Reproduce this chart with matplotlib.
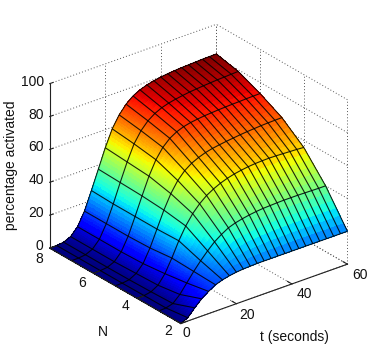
import numpy as np
import matplotlib
matplotlib.use('Agg')
import matplotlib.pyplot as plt
from mpl_toolkits.mplot3d import proj3d

t_vals = np.arange(25) * 2.5
n_vals = [2, 3, 4, 5, 6, 7, 8]
act_n2 = [0, 2, 6.5, 10.5, 13.5, 16, 17.5, 18.5, 19.2, 19.6, 19.8, 20, 20, 20, 20, 20, 20, 20, 20, 20, 20, 20, 20, 20, 20]
act_n3 = [0, .3, 1.5, 5.5, 11, 16.5, 21.5, 26, 30, 33, 35.5, 37, 38, 38.8, 39.4, 39.8, 40, 40.2, 40.3, 40.3, 40.3, 40.2, 40.1, 40, 40]
act_n4 = [0, .2, 1, 3.5, 9, 17, 26, 33.5, 39.5, 44, 47.5, 50, 52, 53.5, 54.6, 55.4, 56, 56.4, 56.6, 56.7, 56.6, 56.4, 56.2, 56, 55.7]
act_n5 = [0, .1, .7, 3, 7.5, 15.5, 25.5, 35.5, 44, 50.5, 55, 58, 60, 61.5, 62.5, 63.2, 63.8, 64.3, 64.8, 65.2, 65.5, 65.8, 66, 66.1, 66.2]
act_n6 = [0, .1, .6, 2.5, 7, 15, 25.5, 36.5, 47, 55.5, 61.5, 65.5, 68, 69.6, 70.6, 71.2, 71.7, 72, 72.3, 72.5, 72.7, 72.8, 73, 73.1, 73.2]
act_n7 = [0, .1, .6, 2.5, 7, 15, 25.5, 37, 48, 57.5, 64, 68.5, 71.5, 73.5, 74.8, 75.7, 76.4, 77, 77.4, 77.8, 78.1, 78.4, 78.6, 78.8, 79]
act_n8 = [0, .1, .6, 2.5, 7, 15, 26, 37.5, 49, 59, 66, 71, 74.5, 76.7, 78.2, 79.2, 80, 80.5, 80.9, 81.2, 81.4, 81.6, 81.8, 81.9, 82]
t_ticks = [0, 20, 40, 60]
n_ticks = [2, 4, 6, 8]
z_ticks = [0, 20, 40, 60, 80, 100]

plt.rcParams['font.family'] = ['Liberation Sans', 'DejaVu Sans']
W, H = 384, 361
fig = plt.figure(figsize=(W/100, H/100), dpi=100)
side = 340
ax = fig.add_axes([24/W, 1-348.5/H, side/W, side/H], projection='3d', computed_zorder=False)
ax.set_proj_type('ortho')
ax.view_init(elev=26.9, azim=-128.2)
ax.set_xlim(0, 60, view_margin=0)
ax.set_ylim(2, 8, view_margin=0)
ax.set_zlim(0, 100, view_margin=0)
ax.set_box_aspect((1, 1, 0.87), zoom=1.005)
ax.set_axis_off()
ax.patch.set_alpha(0)

Z = np.array([act_n2, act_n3, act_n4, act_n5, act_n6, act_n7, act_n8])
T, N = np.meshgrid(t_vals, n_vals)

# finer mesh only for the colour fill (shading interp), lines use the read grid
sub = 6
tf = np.interp(np.arange((len(t_vals)-1)*sub+1)/sub, np.arange(len(t_vals)), t_vals)
nf = np.interp(np.arange((len(n_vals)-1)*sub+1)/sub, np.arange(len(n_vals)), n_vals)
Zf = np.array([np.interp(tf, t_vals, row) for row in Z])
Zf = np.array([np.interp(nf, n_vals, col) for col in Zf.T]).T
Tf, Nf = np.meshgrid(tf, nf)

grid = dict(color='#555555', ls=(0, (1, 2.2)), lw=0.7, zorder=1)
for z in z_ticks:
    ax.plot([0, 60], [8, 8], [z, z], **grid)
    ax.plot([60, 60], [2, 8], [z, z], **grid)
for t in t_ticks:
    ax.plot([t, t], [8, 8], [0, 100], **grid)
    ax.plot([t, t], [2, 8], [0, 0], **grid)
for n in n_ticks:
    ax.plot([60, 60], [n, n], [0, 100], **grid)
    ax.plot([0, 60], [n, n], [0, 0], **grid)

ax.plot_surface(Tf, Nf, Zf, rstride=1, cstride=1, cmap='jet', vmin=0, vmax=Z.max(),
                shade=False, linewidth=0, antialiased=False, zorder=2)
ax.plot_wireframe(T, N, Z, rstride=1, cstride=1, color='black', linewidth=0.8, alpha=0.85, zorder=3)

axis = dict(color='#222222', lw=0.8, zorder=4)
ax.plot([0, 0], [8, 8], [0, 100], **axis)
ax.plot([0, 0], [2, 8], [0, 0], **axis)
ax.plot([0, 60], [2, 2], [0, 0], **axis)
for z in z_ticks:
    ax.plot([0, 1.2], [8, 8], [z, z], **axis)
for n in n_ticks:
    ax.plot([0, 2.2], [n, n], [0, 0], **axis)
for t in t_ticks:
    ax.plot([t, t], [2, 2.2], [0, 0], **axis)

def label(t, n, z, dx, dy, s, ha='center'):
    x2, y2, _ = proj3d.proj_transform(t, n, z, ax.get_proj())
    ax.annotate(s, (x2, y2), xytext=(dx*0.72, -dy*0.72), textcoords='offset points',
                ha=ha, va='center', fontsize=10, color='#111111', zorder=5)

for z in z_ticks:
    label(0, 8, z, -6, -2, str(z), ha='right')
for n, off in zip(n_ticks, [(-13, 8), (-12, 8), (-11, 10), (-10, 11)]):
    label(0, n, 0, off[0], off[1], str(n))
for t, off in zip(t_ticks, [(6, 10), (11, 11), (12, 10), (13, 11)]):
    label(t, 2, 0, off[0], off[1], str(t))

fig.text(103/W, 1-332/H, 'N', ha='center', va='center', fontsize=10, color='#111111')
fig.text(294/W, 1-337/H, 't (seconds)', ha='center', va='center', fontsize=10, color='#111111')
fig.text(11/W, 1-165/H, 'percentage activated', rotation=90, ha='center', va='center',
         fontsize=10, color='#111111')

fig.savefig('out.png', dpi=100)
